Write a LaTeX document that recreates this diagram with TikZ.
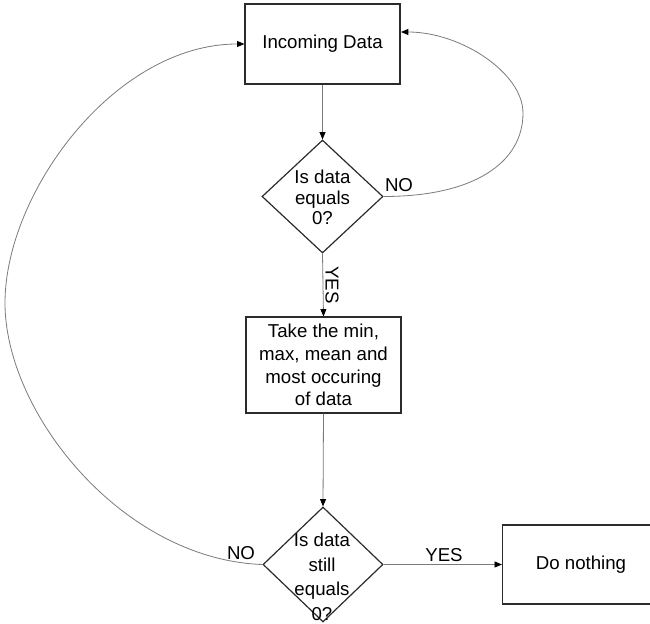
\documentclass[tikz,border=0pt]{standalone}
\usepackage{fontspec}
\setmainfont{Liberation Sans}
\usetikzlibrary{arrows.meta,shapes.geometric}
\definecolor{boxline}{HTML}{2B2B2B}
\definecolor{connline}{HTML}{7A7A7A}
\tikzset{
  procbox/.style={draw=boxline, line width=0.9pt, minimum width=116.25pt, inner sep=0pt, align=center, font=\fontsize{14}{17}\selectfont},
  decbox/.style={draw=boxline, line width=0.9pt, shape=diamond, inner sep=0pt, minimum width=90.75pt, minimum height=84.75pt},
  dectext/.style={align=center, inner sep=0pt},
  conn/.style={draw=connline, line width=0.6pt, -{Triangle[length=5.5pt,width=4.5pt,fill=black,color=black]}},
  lab/.style={inner sep=0pt, font=\fontsize{14}{17}\selectfont}
}
\begin{document}
\begin{tikzpicture}[x=0.75pt,y=-0.75pt]
\useasboundingbox (0,0) rectangle (650,624);
% nodes
\node[procbox, minimum height=60pt] (in) at (322.5,44) {Incoming Data};
\node[decbox] (d1) at (322.5,196.5) {};
\node[dectext, font=\fontsize{14}{15.6}\selectfont] (d1t) at (322.5,197.5) {Is data\\equals\\0?};
\node[procbox, minimum height=72pt] (b2) at (323.5,365) {Take the min,\\max, mean and\\most occuring\\of data};
\node[decbox, minimum width=90pt, minimum height=86.25pt] (d2) at (323,564.5) {};
\node[dectext, font=\fontsize{14}{18.4}\selectfont] (d2t) at (322,577) {Is data\\still\\equals\\0?};
\node[procbox, minimum width=117pt, minimum height=59.25pt] (dn) at (580.5,564.5) {};
\node[lab] (dnt) at (581,565) {Do nothing};
% labels
\node[lab] (no1) at (399,185) {NO};
\node[lab, rotate=-90] (yes1) at (332,285) {YES};
\node[lab] (yes2) at (444,555) {YES};
\node[lab] (no2) at (241,553) {NO};
% helper coordinates
\coordinate (inR) at (401,32);
\coordinate (rtop) at (523,113);
\coordinate (lmost) at (5,303);
% connectors
\draw[conn] (in.south) -- (d1.north);
\draw[conn] (d1.south) -- (b2.north);
\draw[conn] (b2.south) -- (d2.north);
\draw[conn] (d2.east) -- (dn.west);
\draw[conn] (d1.east) .. controls +(90,0) and +(0,50) .. (rtop) .. controls +(0,-40) and +(60,0) .. (inR);
\draw[conn] (d2.west) .. controls +(-140,-5) and +(0,110) .. (lmost) .. controls +(0,-110) and +(-130,0) .. (in.west);
\end{tikzpicture}
\end{document}
